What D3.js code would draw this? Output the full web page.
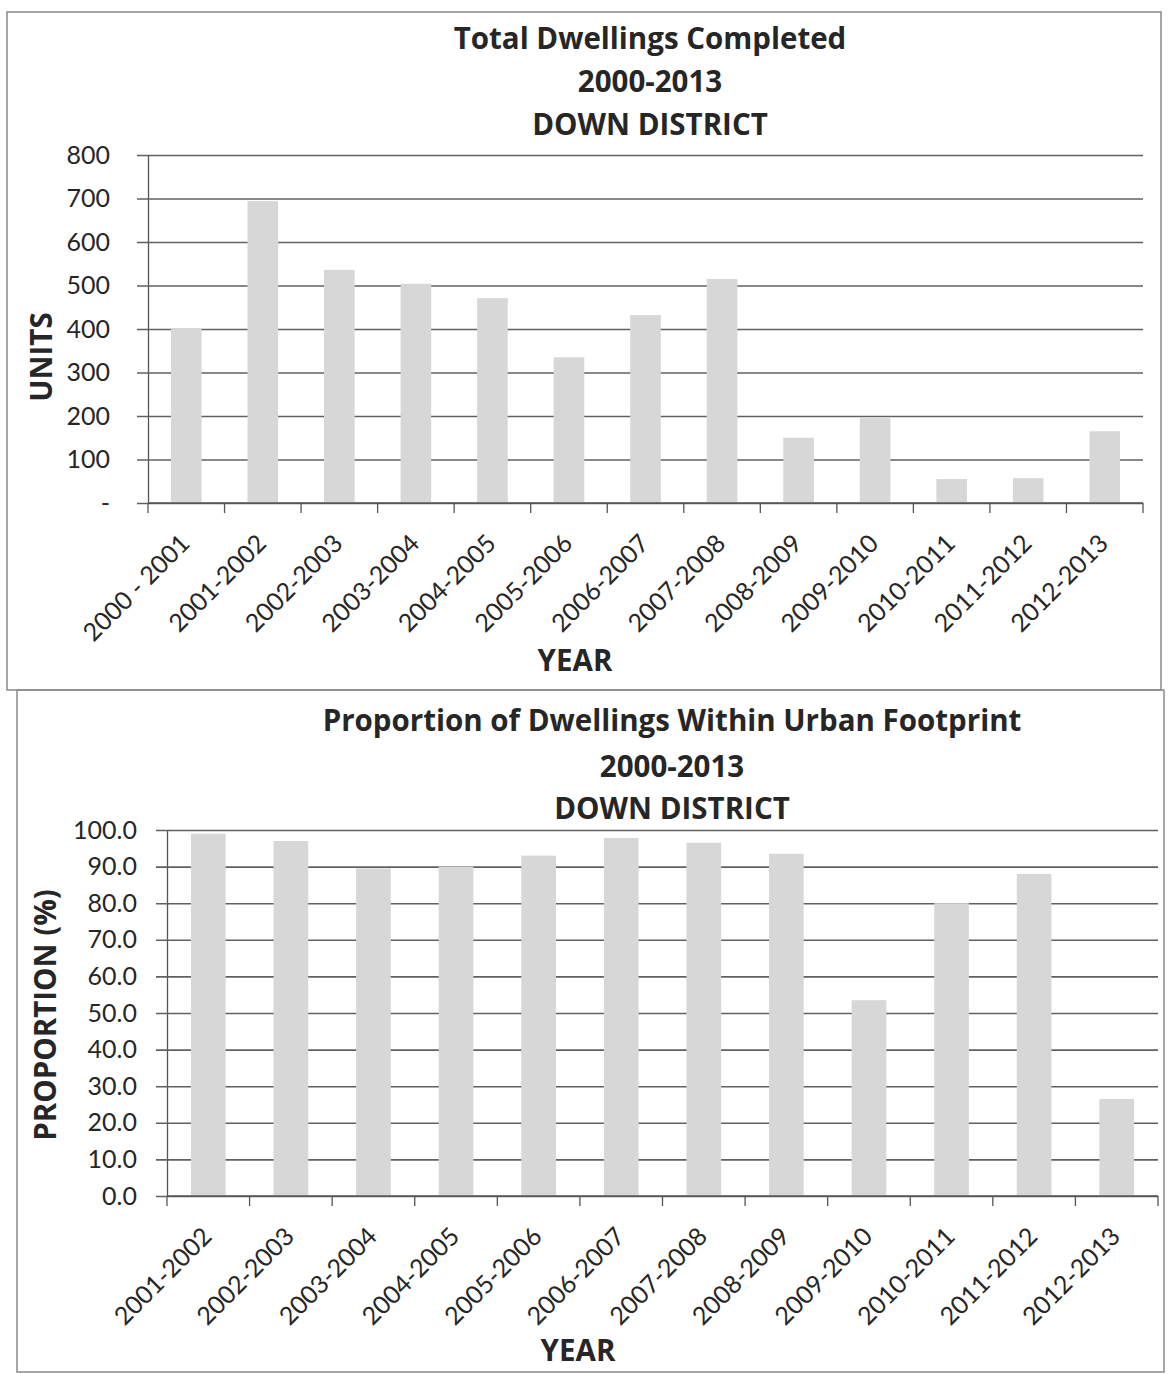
<!DOCTYPE html>
<html>
<head>
<meta charset="utf-8">
<script src="https://cdn.jsdelivr.net/npm/d3@7/dist/d3.min.js"></script>
<style>
  body { margin: 0; background: #fff; }
  text { font-family: Lato, "Open Sans", sans-serif; fill: #262626; }
  text.heading { font-family: "Open Sans", Lato, sans-serif; font-weight: bold; }
</style>
</head>
<body>
<svg id="chart" width="1169" height="1374"></svg>
<script>
// values
const totalYears = ['2000 - 2001', '2001-2002', '2002-2003', '2003-2004', '2004-2005', '2005-2006',
  '2006-2007', '2007-2008', '2008-2009', '2009-2010', '2010-2011', '2011-2012', '2012-2013'];
const totalUnits = [400, 694, 536, 504, 471, 335, 432, 515, 150, 195, 55, 57, 165];
const unitTicks = [0, 100, 200, 300, 400, 500, 600, 700, 800];
const unitTickLabels = ['-', '100', '200', '300', '400', '500', '600', '700', '800'];

const propYears = ['2001-2002', '2002-2003', '2003-2004', '2004-2005', '2005-2006', '2006-2007',
  '2007-2008', '2008-2009', '2009-2010', '2010-2011', '2011-2012', '2012-2013'];
const propValues = [99, 97, 89.5, 90, 93, 97.8, 96.5, 93.5, 53.5, 80, 88, 26.5];
const propTicks = [0, 10, 20, 30, 40, 50, 60, 70, 80, 90, 100];
const propTickLabels = ['0.0', '10.0', '20.0', '30.0', '40.0', '50.0', '60.0', '70.0', '80.0', '90.0', '100.0'];

const svg = d3.select('#chart');

function drawPanel(cfg) {
  const g = svg.append('g');

  // panel frame
  g.append('rect')
    .attr('x', cfg.frame[0]).attr('y', cfg.frame[1])
    .attr('width', cfg.frame[2]).attr('height', cfg.frame[3])
    .attr('fill', 'none').attr('stroke', '#8a8a8a').attr('stroke-width', 1.5);

  // title lines
  g.selectAll('text.title')
    .data(cfg.titles)
    .join('text')
    .attr('class', 'title heading')
    .attr('x', cfg.titleX)
    .attr('y', (d, i) => cfg.titleY[i])
    .attr('text-anchor', 'middle')
    .attr('font-size', 29.5)
    .text(d => d);

  const x = d3.scaleBand()
    .domain(cfg.cats)
    .range([cfg.left, cfg.right])
    .paddingInner(cfg.pad)
    .paddingOuter(cfg.pad / 2);
  const y = d3.scaleLinear()
    .domain([0, cfg.ticks[cfg.ticks.length - 1]])
    .range([cfg.bottom, cfg.top]);

  // y axis with gridlines
  const yAxis = g.append('g')
    .attr('transform', `translate(${cfg.left},0)`)
    .call(d3.axisLeft(y)
      .tickValues(cfg.ticks)
      .tickFormat((d, i) => cfg.tickLabels[i])
      .tickSizeInner(-(cfg.right - cfg.left))
      .tickSizeOuter(0)
      .tickPadding(cfg.labelPad));
  yAxis.select('.domain').attr('stroke', '#555').attr('stroke-width', 1.3);
  yAxis.selectAll('.tick line')
    .attr('x1', -11)
    .attr('stroke', '#606060')
    .attr('stroke-width', 1.6);
  yAxis.selectAll('.tick text')
    .attr('font-size', 25)
    .attr('font-family', 'Lato, sans-serif')
    .attr('fill', '#262626');

  // bars (drawn over the gridlines)
  g.append('g')
    .selectAll('rect')
    .data(cfg.values)
    .join('rect')
    .attr('x', (d, i) => x(cfg.cats[i]))
    .attr('y', d => y(d))
    .attr('width', x.bandwidth())
    .attr('height', d => y(0) - y(d))
    .attr('fill', '#d7d7d7');

  // x axis
  const edges = cfg.cats.map(c => x(c) - (x.step() - x.bandwidth()) / 2).concat([cfg.right]);
  g.append('line')
    .attr('x1', cfg.left).attr('x2', cfg.right)
    .attr('y1', y(0)).attr('y2', y(0))
    .attr('stroke', '#555').attr('stroke-width', 1.6);
  g.append('g')
    .selectAll('line')
    .data(edges)
    .join('line')
    .attr('x1', d => d).attr('x2', d => d)
    .attr('y1', y(0)).attr('y2', y(0) + 10)
    .attr('stroke', '#555').attr('stroke-width', 1.3);

  g.append('g')
    .selectAll('text')
    .data(cfg.cats)
    .join('text')
    .attr('transform', d => `translate(${x(d) + x.bandwidth() / 2 + 5},${y(0) + 42}) rotate(-45)`)
    .attr('text-anchor', 'end')
    .attr('font-size', 25)
    .text(d => d);

  // axis titles
  g.append('text')
    .attr('class', 'heading')
    .attr('transform', `translate(${cfg.yTitleX},${cfg.yTitleY}) rotate(-90)`)
    .attr('text-anchor', 'middle')
    .attr('font-size', 29.5)
    .text(cfg.yTitle);
  g.append('text')
    .attr('class', 'heading')
    .attr('x', cfg.xTitleX)
    .attr('y', cfg.xTitleY)
    .attr('text-anchor', 'middle')
    .attr('font-size', 29.5)
    .text('YEAR');
}

drawPanel({
  frame: [7, 12, 1154, 678],
  titles: ['Total Dwellings Completed', '2000-2013', 'DOWN DISTRICT'],
  titleX: 650, titleY: [49, 92, 135],
  cats: totalYears, values: totalUnits,
  ticks: unitTicks, tickLabels: unitTickLabels,
  left: 148, right: 1143, top: 155, bottom: 503, pad: 0.6,
  labelPad: 38,
  yTitle: 'UNITS', yTitleX: 52, yTitleY: 357,
  xTitleX: 575, xTitleY: 671
});

drawPanel({
  frame: [17, 690, 1147, 682],
  titles: ['Proportion of Dwellings Within Urban Footprint', '2000-2013', 'DOWN DISTRICT'],
  titleX: 672, titleY: [731, 777, 819],
  cats: propYears, values: propValues,
  ticks: propTicks, tickLabels: propTickLabels,
  left: 167, right: 1158, top: 830, bottom: 1196, pad: 0.58,
  labelPad: 30,
  yTitle: 'PROPORTION (%)', yTitleX: 56, yTitleY: 1015,
  xTitleX: 578, xTitleY: 1361
});
</script>
</body>
</html>
